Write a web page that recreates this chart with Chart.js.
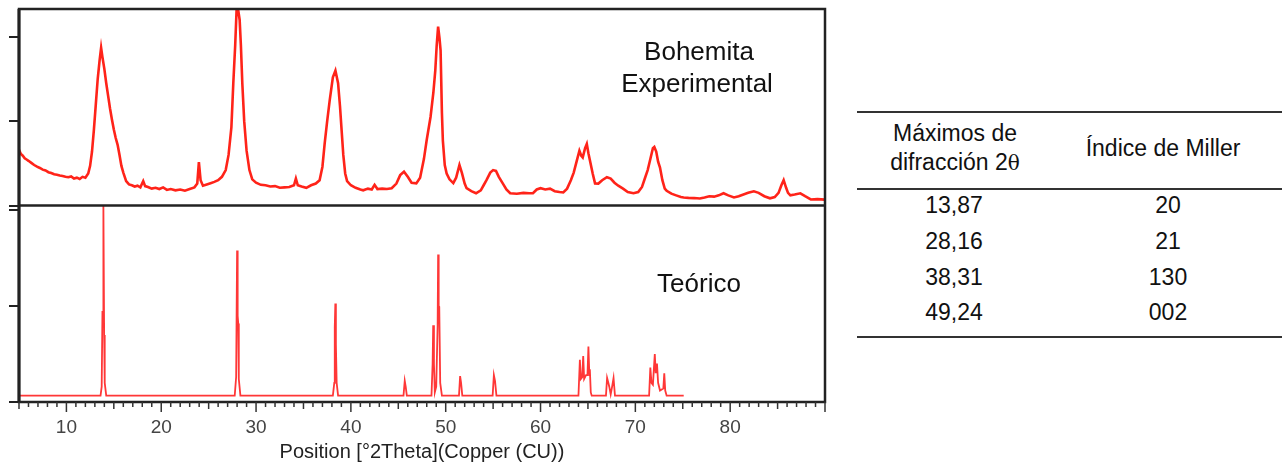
<!DOCTYPE html>
<html>
<head>
<meta charset="utf-8">
<script src="https://cdn.jsdelivr.net/npm/chart.js@4"></script>
<style>
  body { margin: 0; background: #fff; font-family: "Liberation Sans", Arial, sans-serif; }
  #wrap { position: absolute; left: 0; top: 0; width: 840px; height: 466px; }
  .rule { position: absolute; left: 857px; width: 425px; height: 2px; background: #333; }
  .cell { position: absolute; font-size: 23px; color: #111; transform: translate(-50%, -50%); white-space: nowrap; line-height: 1; }
  .theta { font-family: "DejaVu Serif", "Liberation Serif", serif; font-size: 20px; }
</style>
</head>
<body>
<div id="wrap"><canvas id="chart"></canvas></div>

<div class="rule" style="top:111px"></div>
<div class="cell" style="left:955px; top:133px">Máximos de</div>
<div class="cell" style="left:955px; top:162px">difracción 2<span class="theta">θ</span></div>
<div class="cell" style="left:1163px; top:148px">Índice de Miller</div>
<div class="rule" style="top:188px"></div>
<div id="rows"></div>
<div class="rule" style="top:336px"></div>

<script>
// experimental pattern, 2theta (deg) vs counts
const expTheta = [
  5.0, 5.2, 5.4, 5.6, 5.8, 6.0, 6.3, 6.6, 6.9, 7.2, 7.5, 7.8, 8.1, 8.4, 8.7, 9.0, 9.3, 9.6, 9.9, 10.2,
  10.5, 10.8, 11.1, 11.4, 11.7, 12.0, 12.3, 12.5, 12.7, 12.9, 13.1, 13.3, 13.5, 13.66, 13.8, 14.0, 14.2, 14.4, 14.6, 14.8,
  15.0, 15.2, 15.4, 15.6, 15.8, 16.0, 16.3, 16.6, 16.9, 17.2, 17.5, 17.8, 18.1, 18.3, 18.6, 19.0, 19.4, 19.8, 20.2, 20.6,
  21.0, 21.5, 22.0, 22.5, 23.0, 23.5, 23.8, 23.97, 24.15, 24.4, 24.8, 25.2, 25.6, 26.0, 26.4, 26.8, 27.1, 27.4, 27.6, 27.8,
  27.95, 28.1, 28.27, 28.4, 28.55, 28.75, 29.0, 29.3, 29.6, 30.0, 30.5, 31.0, 31.5, 32.0, 32.5, 33.0, 33.5, 34.0, 34.2, 34.4,
  34.8, 35.3, 35.8, 36.3, 36.7, 37.0, 37.24, 37.5, 37.77, 38.1, 38.37, 38.65, 38.85, 39.0, 39.2, 39.4, 39.6, 40.0, 40.5, 41.0,
  41.3, 41.8, 42.2, 42.5, 42.8, 43.3, 43.8, 44.3, 44.8, 45.2, 45.6, 46.0, 46.4, 46.9, 47.3, 47.7, 48.0, 48.4, 48.7, 48.9,
  49.05, 49.2, 49.35, 49.46, 49.6, 49.7, 49.9, 50.1, 50.4, 50.8, 51.1, 51.45, 51.7, 52.0, 52.2, 52.7, 53.2, 53.7, 54.0, 54.3,
  54.7, 55.0, 55.3, 55.6, 56.0, 56.4, 56.8, 57.5, 58.2, 58.8, 59.2, 59.6, 60.0, 60.5, 61.0, 61.5, 62.0, 62.4, 62.8, 63.2,
  63.5, 63.8, 64.1, 64.3, 64.45, 64.7, 64.88, 65.05, 65.2, 65.5, 65.75, 66.1, 66.5, 67.0, 67.4, 67.8, 68.2, 68.7, 69.2, 69.8,
  70.3, 70.7, 71.0, 71.3, 71.6, 71.85, 72.0, 72.2, 72.4, 72.6, 72.85, 73.1, 73.3, 73.8, 74.3, 74.8, 75.1, 75.6, 76.2, 76.8,
  77.3, 77.8, 78.3, 78.8, 79.3, 79.8, 80.4, 80.9, 81.4, 81.9, 82.5, 83.0, 83.6, 84.2, 84.7, 85.1, 85.4, 85.64, 85.9, 86.1,
  86.35, 86.8, 87.4, 87.9, 88.5, 89.2, 90.0
];
const expCounts = [
  660, 610, 590, 560, 545, 530, 505, 480, 460, 445, 425, 415, 395, 385, 370, 365, 355, 350, 340, 335,
  345, 320, 330, 315, 340, 330, 380, 470, 640, 900, 1200, 1500, 1720, 1870, 1760, 1620, 1450, 1300, 1150, 1020,
  900, 800, 720, 600, 470, 390, 290, 250, 240, 225, 235, 215, 290, 230, 220, 200, 210, 195, 215, 185,
  195, 180, 190, 175, 195, 215, 260, 515, 300, 235, 250, 265, 280, 300, 340, 420, 600, 930, 1450, 1900,
  2330, 2330, 2200, 1900, 1450, 1000, 650, 420, 310, 270, 245, 240, 225, 230, 210, 215, 220, 240, 320, 240,
  225, 210, 240, 260, 300, 460, 740, 1000, 1250, 1520, 1600, 1450, 1180, 930, 600, 380, 290, 240, 210, 190,
  180, 200, 190, 245, 195, 200, 195, 205, 260, 360, 400, 340, 270, 262, 330, 550, 780, 1050, 1340, 1600,
  1900, 2120, 1980, 1840, 1100, 770, 480, 380, 310, 265, 330, 480, 390, 260, 205, 170, 145, 180, 240, 300,
  390, 420, 410, 340, 265, 190, 145, 140, 150, 145, 145, 190, 205, 190, 200, 170, 160, 155, 200, 300,
  390, 520, 650, 590, 570, 680, 730, 620, 540, 380, 262, 260, 300, 335, 320, 270, 235, 200, 160, 145,
  160, 220, 320, 420, 560, 680, 695, 640, 520, 450, 300, 200, 175, 140, 120, 100, 95, 90, 88, 83,
  95, 110, 105, 120, 145, 120, 95, 110, 130, 150, 168, 150, 110, 85, 100, 150, 240, 300, 210, 150,
  120, 130, 145, 110, 72, 75, 70
];

// calculated pattern, relative intensity (%)
const theoTheta = [
  5.0, 13.6, 13.72, 13.8, 13.86, 13.9, 13.98, 14.04, 14.2,
  27.75, 27.9, 27.96, 28.0, 28.06, 28.12, 28.18, 28.35,
  38.1, 38.25, 38.3, 38.36, 38.42, 38.5, 38.65,
  45.55, 45.68, 45.78, 45.9,
  48.5, 48.62, 48.68, 48.76, 48.85, 49.0, 49.15, 49.2, 49.26, 49.32, 49.42, 49.6,
  51.4, 51.52, 51.62, 51.75,
  54.95, 55.08, 55.2, 55.35,
  64.0, 64.15, 64.25, 64.4, 64.5, 64.6, 64.8, 64.95, 65.05, 65.15, 65.2, 65.3, 65.4,
  66.9, 67.02, 67.15, 67.25, 67.4, 67.55, 67.7, 67.85,
  71.45, 71.58, 71.7, 71.85, 72.05, 72.15, 72.28, 72.4, 72.6, 72.95, 73.05, 73.15, 73.3, 75.1
];
const theoIntensity = [
  3.3, 3.3, 8, 47, 47, 102.5, 35, 10, 3.3,
  3.3, 13, 13, 79, 45, 41, 12, 3.3,
  3.3, 10, 39, 51.4, 30, 10, 3.3,
  3.3, 11, 8, 3.3,
  3.3, 20, 40, 20, 5, 8, 40, 77, 50, 49.6, 10, 3.3,
  3.3, 13.5, 10, 3.3,
  3.3, 14, 11, 3.3,
  3.3, 22, 12, 13, 24, 12, 14, 14, 29, 14, 17, 5, 3.3,
  3.3, 12.5, 10, 8, 4, 8, 12.5, 3.3,
  3.3, 18, 10, 9, 25, 15, 20, 10, 6, 7, 15, 6, 3.3, 3.3
];

// left-axis tick marks (no labels) for each panel
const expTicks = [0, 1000, 2000];
const theoTicks = [0, 50, 100];

// table of main reflections
const peakPositions = ['13,87', '28,16', '38,31', '49,24'];
const millerIndices = ['20', '21', '130', '002'];
const rowCenters = [205, 241, 277, 312];

const rows = document.getElementById('rows');
peakPositions.forEach((p, i) => {
  rows.insertAdjacentHTML('beforeend',
    '<div class="cell" style="left:954px; top:' + rowCenters[i] + 'px">' + p + '</div>' +
    '<div class="cell" style="left:1168px; top:' + rowCenters[i] + 'px">' + millerIndices[i] + '</div>');
});

const FONT = '"Liberation Sans", Arial, sans-serif';

// frame around both panels, divider, x tick marks and panel captions
const framePlugin = {
  id: 'frame',
  afterDatasetsDraw(chart) {
    const {ctx, chartArea: a, scales} = chart;
    const mid = scales.yExp.getPixelForValue(0);
    ctx.save();
    ctx.strokeStyle = '#222';
    ctx.lineWidth = 2.5;
    ctx.strokeRect(a.left, a.top, a.right - a.left, a.bottom - a.top);
    ctx.beginPath();
    ctx.moveTo(a.left, mid);
    ctx.lineTo(a.right, mid);
    ctx.stroke();
    ctx.lineWidth = 3;
    ctx.beginPath();
    ctx.moveTo(a.left, a.top);
    ctx.lineTo(a.left, a.bottom);
    ctx.stroke();

    // minor ticks every degree, longer ones at 5 and 10
    ctx.lineWidth = 1.5;
    ctx.strokeStyle = '#333';
    for (let v = 5; v <= 90; v++) {
      const x = scales.x.getPixelForValue(v);
      const len = v % 10 === 0 ? 10 : (v % 5 === 0 ? 7 : 5);
      ctx.beginPath();
      ctx.moveTo(x, a.bottom);
      ctx.lineTo(x, a.bottom + len);
      ctx.stroke();
    }

    ctx.fillStyle = '#111';
    ctx.font = '26px ' + FONT;
    ctx.textAlign = 'center';
    ctx.textBaseline = 'alphabetic';
    ctx.fillText('Bohemita', 699, 60);
    ctx.fillText('Experimental', 697, 92);
    ctx.fillText('Teórico', 699, 292);
    ctx.restore();
  }
};

const yTickGrid = {
  drawOnChartArea: false,
  drawTicks: true,
  tickLength: 10,
  color: '#222',
  lineWidth: 2
};

new Chart(document.getElementById('chart'), {
  type: 'line',
  data: {
    datasets: [{
      data: expTheta.map((t, i) => ({x: t, y: expCounts[i]})),
      yAxisID: 'yExp',
      borderColor: 'rgb(255, 35, 25)',
      borderWidth: 2.6,
      pointRadius: 0,
      tension: 0
    }, {
      data: theoTheta.map((t, i) => ({x: t, y: theoIntensity[i]})),
      yAxisID: 'yTheo',
      borderColor: 'rgb(255, 55, 55)',
      borderWidth: 1.8,
      pointRadius: 0,
      tension: 0
    }]
  },
  options: {
    responsive: true,
    maintainAspectRatio: false,
    animation: false,
    layout: {padding: {left: 9, right: 15, top: 9, bottom: 0}},
    plugins: {legend: {display: false}, tooltip: {enabled: false}},
    scales: {
      x: {
        type: 'linear',
        min: 5,
        max: 90,
        afterFit: s => { s.height = 64; },
        grid: {drawOnChartArea: false, tickLength: 10, tickColor: 'rgba(0,0,0,0)'},
        border: {display: false},
        ticks: {
          stepSize: 1,
          autoSkip: false,
          maxRotation: 0,
          padding: 4,
          color: '#444',
          font: {family: FONT, size: 19},
          callback: v => (v % 10 === 0 && v < 90 ? String(v) : '')
        },
        title: {
          display: true,
          text: 'Position [°2Theta](Copper (CU))',
          color: '#222',
          font: {family: FONT, size: 20},
          padding: {top: 4, bottom: 2}
        }
      },
      yTheo: {
        type: 'linear',
        position: 'left',
        stack: 'xrd',
        stackWeight: 1,
        min: 0,
        max: 102.5,
        afterFit: s => { s.width = 10; },
        afterBuildTicks: s => { s.ticks = theoTicks.map(v => ({value: v})); },
        grid: yTickGrid,
        border: {display: false},
        ticks: {display: false}
      },
      yExp: {
        type: 'linear',
        position: 'left',
        stack: 'xrd',
        stackWeight: 1,
        min: 0,
        max: 2330,
        afterFit: s => { s.width = 10; },
        afterBuildTicks: s => { s.ticks = expTicks.map(v => ({value: v})); },
        grid: yTickGrid,
        border: {display: false},
        ticks: {display: false}
      }
    }
  },
  plugins: [framePlugin]
});
</script>
</body>
</html>
